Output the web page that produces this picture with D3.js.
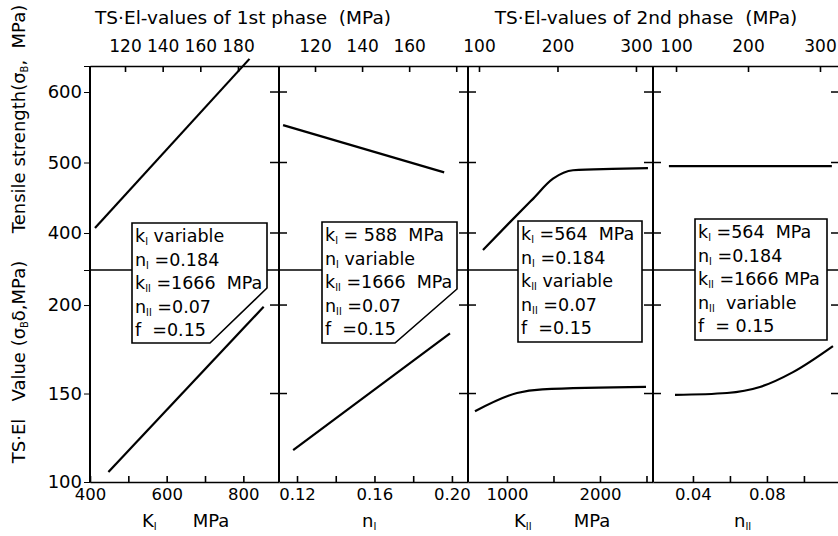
<!DOCTYPE html>
<html>
<head>
<meta charset="utf-8">
<script src="https://cdn.jsdelivr.net/npm/d3@7"></script>
<style>
  body { margin: 0; background: #fff; }
  svg text { font-family: "DejaVu Sans", sans-serif; fill: #000; white-space: pre; }
</style>
</head>
<body>
<div id="chart"></div>
<script>
// values, one pair of series per panel
// upper part = tensile strength, lower part = TS·El value
var kI_ts    = [{x: 413, y: 407}, {x: 816, y: 647}];
var kI_tsel  = [{x: 448, y: 105.6}, {x: 853, y: 199}];
var nI_ts    = [{x: 0.1128, y: 553}, {x: 0.196, y: 486}];
var nI_tsel  = [{x: 0.118, y: 118}, {x: 0.199, y: 184}];
var kII_ts   = [{x: 742, y: 376}, {x: 1022, y: 414}, {x: 1269, y: 447}, {x: 1495, y: 477},
                {x: 1710, y: 489}, {x: 2129, y: 491}, {x: 2516, y: 492}];
var kII_tsel = [{x: 656, y: 140}, {x: 1108, y: 150.3}, {x: 1380, y: 152.3}, {x: 2495, y: 153.7}];
var nII_ts   = [{x: 0.027, y: 495}, {x: 0.1151, y: 495}];
var nII_tsel = [{x: 0.0303, y: 149.2}, {x: 0.0584, y: 150.3}, {x: 0.0762, y: 153.7},
                {x: 0.0941, y: 162.1}, {x: 0.1157, y: 176.8}];

// axes
var bottomDomains = [[400, 893], [0.1107, 0.2083], [581, 2570], [0.0184, 0.1195]];
var bottomTicks   = [[400, 500, 600, 700, 800], [0.12, 0.14, 0.16, 0.18, 0.20], [1000, 1500, 2000, 2500], [0.04, 0.06, 0.08, 0.10]];
var bottomLabels  = [["400", "600", "800"], ["0.12", "0.16", "0.20"], ["1000", "2000"], ["0.04", "0.08"]];
var topDomains    = [[101.4, 201.8], [104.7, 185], [86, 321.7], [68, 327.8]];
var topTicks      = [[120, 140, 160, 180], [120, 140, 160, 180], [100, 200, 300], [100, 200, 300]];
var topLabels     = [["120", "140", "160", "180"], ["120", "140", "160"], ["100", "200", "300"], ["100", "200", "300"]];
var tsDomain   = [347.5, 636.9];
var tsTicks    = [400, 500, 600];
var tselDomain = [100, 219.8];
var tselTicks  = [100, 150, 200];

// legend text: [text, isSubscript]
var legends = [
  [[["k"], ["I", 1], [" variable"]],
   [["n"], ["I", 1], [" =0.184"]],
   [["k"], ["II", 1], [" =1666  MPa"]],
   [["n"], ["II", 1], [" =0.07"]],
   [["f  =0.15"]]],
  [[["k"], ["I", 1], [" = 588  MPa"]],
   [["n"], ["I", 1], [" variable"]],
   [["k"], ["II", 1], [" =1666  MPa"]],
   [["n"], ["II", 1], [" =0.07"]],
   [["f  =0.15"]]],
  [[["k"], ["I", 1], [" =564  MPa"]],
   [["n"], ["I", 1], [" =0.184"]],
   [["k"], ["II", 1], [" variable"]],
   [["n"], ["II", 1], [" =0.07"]],
   [["f  =0.15"]]],
  [[["k"], ["I", 1], [" =564  MPa"]],
   [["n"], ["I", 1], [" =0.184"]],
   [["k"], ["II", 1], [" =1666 MPa"]],
   [["n"], ["II", 1], ["  variable"]],
   [["f  = 0.15"]]]
];
var xTitles = [[["K"], ["I", 1], ["    MPa"]], [["n"], ["I", 1]], [["K"], ["II", 1], ["    MPa"]], [["n"], ["II", 1]]];

// layout
var W = 838, H = 536;
var edges = [90, 279, 468, 653, 840];
var yTopPx = 66, yBreakPx = 270, yBotPx = 482;
var boxes = [
  {x0: 132, x1: 267, y0: 223, y1: 343, cx: 57, cy: 55},
  {x0: 322, x1: 457, y0: 222, y1: 343, cx: 62, cy: 54},
  {x0: 518, x1: 642, y0: 221, y1: 342, cx: 0, cy: 0},
  {x0: 695, x1: 827, y0: 219, y1: 340, cx: 0, cy: 0}
];
var titleX = [[150, 211], [370], [522, 592], [742]];

var svg = d3.select("#chart").append("svg")
  .attr("width", W).attr("height", H);

var yTS = d3.scaleLinear().domain(tsDomain).range([yBreakPx, yTopPx]);
var yTE = d3.scaleLinear().domain(tselDomain).range([yBotPx, yBreakPx]);

function addRich(sel, parts, size) {
  parts.forEach(function(p) {
    var t = sel.append("tspan").text(p[0]);
    if (p[1]) t.attr("font-size", size * 0.55).attr("dy", 3);
    else if (sel.selectAll("tspan").size() > 1) t.attr("dy", -3);
  });
}

// break line between the two parts
svg.append("line")
  .attr("x1", edges[0]).attr("x2", edges[4])
  .attr("y1", yBreakPx).attr("y2", yBreakPx)
  .attr("stroke", "#000").attr("stroke-width", 1.6);

var series = [[kI_ts, kI_tsel], [nI_ts, nI_tsel], [kII_ts, kII_tsel], [nII_ts, nII_tsel]];

series.forEach(function(s, i) {
  var x = d3.scaleLinear().domain(bottomDomains[i]).range([edges[i], edges[i + 1]]);
  var xt = d3.scaleLinear().domain(topDomains[i]).range([edges[i], edges[i + 1]]);

  // bottom axis
  var labels = bottomLabels[i];
  svg.append("g")
    .attr("class", "bottom")
    .attr("transform", "translate(0," + yBotPx + ")")
    .call(d3.axisBottom(x).tickValues(bottomTicks[i])
      .tickSizeInner(-6).tickSizeOuter(0).tickPadding(6)
      .tickFormat(function(d) {
        var f = d < 1 ? d3.format(".2f")(d) : String(d);
        return labels.indexOf(f) >= 0 ? f : "";
      }));

  // top axis
  var tl = topLabels[i];
  svg.append("g")
    .attr("class", "top")
    .attr("transform", "translate(0," + yTopPx + ")")
    .call(d3.axisTop(xt).tickValues(topTicks[i])
      .tickSizeInner(-6).tickSizeOuter(0).tickPadding(14)
      .tickFormat(function(d) { return tl.indexOf(String(d)) >= 0 ? String(d) : ""; }));

  // data lines
  var line = function(y) {
    return d3.line().x(function(d) { return x(d.x); }).y(function(d) { return y(d.y); })
      .curve(d3.curveMonotoneX);
  };
  svg.append("path").datum(s[0]).attr("d", line(yTS))
    .attr("fill", "none").attr("stroke", "#000").attr("stroke-width", 2.2);
  svg.append("path").datum(s[1]).attr("d", line(yTE))
    .attr("fill", "none").attr("stroke", "#000").attr("stroke-width", 2.2);

  // axis title under panel
  var tx = titleX[i];
  var t1 = svg.append("text").attr("x", tx[0] - 8).attr("y", 527).attr("font-size", 18);
  addRich(t1, xTitles[i].slice(0, 2), 18);
  if (xTitles[i][2]) {
    svg.append("text").attr("x", tx[1]).attr("y", 527).attr("text-anchor", "middle")
      .attr("font-size", 18).text("MPa");
  }
});

svg.selectAll(".bottom text").attr("font-size", 16.5).attr("font-family", "DejaVu Sans");
svg.selectAll(".top text").attr("font-size", 17).attr("font-family", "DejaVu Sans");
svg.selectAll(".bottom path, .top path, .bottom line, .top line").attr("stroke-width", 1.6);

// left axis
svg.append("g").attr("transform", "translate(" + edges[0] + ",0)")
  .call(d3.axisLeft(yTS).tickValues(tsTicks).tickSize(6).tickPadding(2));
svg.append("g").attr("transform", "translate(" + edges[0] + ",0)")
  .call(d3.axisLeft(yTE).tickValues(tselTicks).tickSize(6).tickPadding(2));
svg.selectAll("g text").filter(function() { return !this.closest(".bottom") && !this.closest(".top"); })
  .attr("font-size", 18).attr("font-family", "DejaVu Sans");

// panel dividers and the cross ticks on them
svg.append("line").attr("x1", edges[0]).attr("x2", edges[0]).attr("y1", yTopPx).attr("y2", yBotPx)
  .attr("stroke", "#000").attr("stroke-width", 2);
var tickYs = tsTicks.map(yTS).concat(tselTicks.slice(1).map(yTE));
edges.slice(1).forEach(function(ex, j) {
  svg.append("line").attr("x1", ex).attr("x2", ex).attr("y1", yTopPx).attr("y2", yBotPx)
    .attr("stroke", "#000").attr("stroke-width", 2);
  svg.selectAll(null).data(tickYs).enter().append("line")
    .attr("x1", ex - 9).attr("x2", j === 3 ? ex : ex + 8)
    .attr("y1", function(d) { return d; }).attr("y2", function(d) { return d; })
    .attr("stroke", "#000").attr("stroke-width", 1.5);
});

// legend boxes
boxes.forEach(function(b, i) {
  var pts = b.cx
    ? [[b.x0, b.y0], [b.x1, b.y0], [b.x1, b.y1 - b.cy], [b.x1 - b.cx, b.y1], [b.x0, b.y1]]
    : [[b.x0, b.y0], [b.x1, b.y0], [b.x1, b.y1], [b.x0, b.y1]];
  svg.append("polygon").attr("points", pts.map(function(p) { return p.join(","); }).join(" "))
    .attr("fill", "#fff").attr("stroke", "#000").attr("stroke-width", 1.6);
  legends[i].forEach(function(ln, k) {
    var t = svg.append("text").attr("x", b.x0 + 3).attr("y", b.y0 + 19 + k * 23.6).attr("font-size", 17.5);
    addRich(t, ln, 17.5);
  });
});

// titles
svg.append("text").attr("x", 243).attr("y", 24).attr("text-anchor", "middle").attr("font-size", 18.5)
  .text("TS·El-values of 1st phase  (MPa)");
svg.append("text").attr("x", 646).attr("y", 24).attr("text-anchor", "middle").attr("font-size", 18.5)
  .text("TS·El-values of 2nd phase  (MPa)");

var yl1 = svg.append("text").attr("transform", "translate(25,119) rotate(-90)")
  .attr("text-anchor", "middle").attr("font-size", 18);
addRich(yl1, [["Tensile strength(σ"], ["B", 1], [",  MPa)"]], 18);
var yl2 = svg.append("text").attr("transform", "translate(25,362) rotate(-90)")
  .attr("text-anchor", "middle").attr("font-size", 18);
addRich(yl2, [["TS·El   Value (σ"], ["B", 1], ["δ,MPa)"]], 18);
</script>
</body>
</html>
